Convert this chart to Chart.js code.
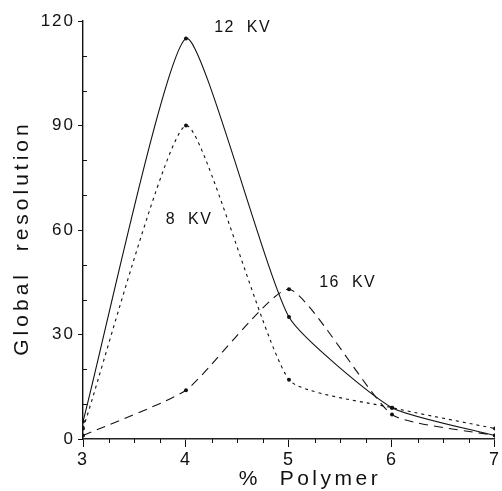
<!DOCTYPE html>
<html>
<head>
<meta charset="utf-8">
<script src="https://cdn.jsdelivr.net/npm/chart.js@4/dist/chart.umd.min.js"></script>
<style>
  html, body { margin: 0; padding: 0; background: #fff; }
  #wrap { width: 502px; height: 491px; }
</style>
</head>
<body>
<div id="wrap"><canvas id="c"></canvas></div>
<script>
// % polymer on the x axis
const polymer = [3, 4, 5, 6, 7];
// global resolution for each voltage
const kv12 = [5, 115, 35, 9, 1];
const kv8 = [3, 90, 17, 9, 3];
const kv16 = [1, 14, 43, 7, 1];
// curve labels, in data coordinates
const labelText = ["12  KV", "8  KV", "16  KV"];
const labelX = [4.55, 4.03, 5.57];
const labelY = [118, 63, 45];

function pts(ys) {
    return polymer.map((x, i) => ({x: x, y: ys[i]}));
}

const FONT = "'Liberation Sans', Arial, sans-serif";

function series(label, ys, dash) {
    return {
        label: label,
        data: pts(ys),
        borderColor: "#111",
        backgroundColor: "#111",
        borderWidth: 1.1,
        borderDash: dash,
        pointRadius: 2,
        pointBorderWidth: 0,
        tension: 0.17,
        fill: false
    };
}

const extras = {
    id: "extras",
    beforeDraw(chart) {
        chart.ctx.letterSpacing = "2px";
    },
    afterDraw(chart) {
        const ctx = chart.ctx;
        const xs = chart.scales.x, ys = chart.scales.y;
        const area = chart.chartArea;
        ctx.save();
        ctx.strokeStyle = "#111";
        ctx.lineWidth = 1;
        // minor ticks
        for (let v = 3.25; v < 7; v += 0.25) {
            if (v % 1 === 0) continue;
            const px = Math.round(xs.getPixelForValue(v)) + 0.5;
            ctx.beginPath();
            ctx.moveTo(px, area.bottom);
            ctx.lineTo(px, area.bottom + 4);
            ctx.stroke();
        }
        for (let v = 10; v < 120; v += 10) {
            if (v % 30 === 0) continue;
            const py = Math.round(ys.getPixelForValue(v)) + 0.5;
            ctx.beginPath();
            ctx.moveTo(area.left, py);
            ctx.lineTo(area.left + 4, py);
            ctx.stroke();
        }
        // curve labels
        ctx.fillStyle = "#111";
        ctx.letterSpacing = "1.5px";
        ctx.font = "16px " + FONT;
        ctx.textAlign = "center";
        ctx.textBaseline = "middle";
        labelText.forEach((t, i) => {
            ctx.fillText(t, xs.getPixelForValue(labelX[i]), ys.getPixelForValue(labelY[i]));
        });
        // axis titles
        ctx.font = "21px " + FONT;
        ctx.letterSpacing = "3.5px";
        ctx.fillText("%  Polymer", 310, 479);
        ctx.translate(22, 238);
        ctx.rotate(-Math.PI / 2);
        ctx.letterSpacing = "4px";
        ctx.fillText("Global  resolution", 0, 0);
        ctx.restore();
    }
};

const chart = new Chart(document.getElementById("c"), {
    type: "line",
    data: {
        datasets: [
            series("12 KV", kv12, []),
            series("8 KV", kv8, [3, 4]),
            series("16 KV", kv16, [9, 6])
        ]
    },
    options: {
        responsive: true,
        maintainAspectRatio: false,
        animation: false,
        layout: {padding: {top: 21, right: 5, left: 0, bottom: 0}},
        plugins: {legend: {display: false}, tooltip: {enabled: false}},
        scales: {
            x: {
                type: "linear",
                min: 3,
                max: 7,
                afterFit: (s) => { s.height = 52; },
                border: {color: "#222", width: 1.6},
                grid: {drawOnChartArea: false, tickLength: 8, tickColor: "#111"},
                ticks: {
                    stepSize: 1,
                    color: "#111",
                    padding: 2,
                    font: {family: FONT, size: 18}
                }
            },
            y: {
                min: 0,
                max: 120,
                afterFit: (s) => { s.width = 83; },
                border: {color: "#111", width: 1.4},
                grid: {drawOnChartArea: false, tickLength: 5, tickColor: "#111"},
                ticks: {
                    stepSize: 30,
                    color: "#111",
                    padding: 3,
                    font: {family: FONT, size: 17}
                }
            }
        }
    },
    plugins: [extras]
});
</script>
</body>
</html>
